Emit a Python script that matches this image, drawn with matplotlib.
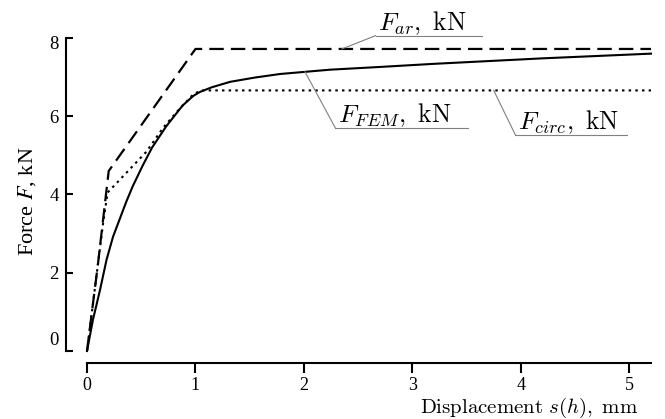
import numpy as np
import matplotlib
matplotlib.use("Agg")
import matplotlib.pyplot as plt
from matplotlib.transforms import ScaledTranslation

plt.rcParams["font.family"] = ["Liberation Serif", "DejaVu Serif"]
plt.rcParams["mathtext.fontset"] = "stix"

# Displacement s (mm) and force F (kN) for each model
s_fem = [0, 0.055, 0.12, 0.18, 0.24, 0.30, 0.36, 0.42, 0.51, 0.60, 0.73, 0.88,
         0.98, 1.04, 1.15, 1.32, 1.55, 1.78, 2.24, 2.70, 3.2, 3.7, 4.2, 4.7, 5.2]
F_fem = [0, 0.8, 1.56, 2.33, 2.92, 3.36, 3.8, 4.2, 4.72, 5.2, 5.74, 6.27,
         6.52, 6.62, 6.74, 6.88, 6.99, 7.08, 7.19, 7.26, 7.34, 7.41, 7.48, 7.54, 7.6]

s_ar = [0, 0.05, 0.10, 0.15, 0.20, 1.0, 5.2]
F_ar = [0, 1.1, 2.2, 3.4, 4.6, 7.72, 7.72]

s_circ = [0, 0.05, 0.10, 0.15, 0.19, 0.55, 0.70, 0.85, 0.98, 1.05, 5.2]
F_circ = [0, 1.1, 2.2, 3.3, 4.05, 5.1, 5.7, 6.18, 6.56, 6.66, 6.66]

x_ticks = [0, 1, 2, 3, 4, 5]
y_ticks = [0, 2, 4, 6, 8]

fig = plt.figure(figsize=(6.65, 4.19), dpi=100)
ax = fig.add_axes([87 / 665, 68 / 419, 564 / 665, 313 / 419])

ax.plot(s_fem, F_fem, color="black", lw=1.5, clip_on=False)
ax.plot(s_ar, F_ar, color="black", lw=1.6, dashes=(6.5, 3.2), clip_on=False)
ax.plot(s_circ, F_circ, color="black", lw=1.5, dashes=(1.2, 2.0), clip_on=False)

ax.set_xlim(0, 5.2)
ax.set_ylim(0, 8)
ax.set_xticks(x_ticks)
ax.set_yticks(y_ticks)

for side in ("top", "right"):
    ax.spines[side].set_visible(False)
ax.spines["left"].set_position(("outward", 15))
ax.spines["bottom"].set_position(("outward", 8.6))
ax.spines["left"].set_bounds(0, 8)
ax.spines["bottom"].set_bounds(0, 5.2)
for side in ("left", "bottom"):
    ax.spines[side].set_linewidth(1.5)

ax.tick_params(axis="y", direction="in", length=5, width=1.5, pad=5.5, labelsize=13.5)
ax.tick_params(axis="x", direction="out", length=7, width=1.5, pad=3, labelsize=13)

# nudge the end labels of the force axis
ylabels = ax.get_yticklabels()
ylabels[0].set_transform(ylabels[0].get_transform() +
                         ScaledTranslation(0, 9 / 72, fig.dpi_scale_trans))
ylabels[-1].set_transform(ylabels[-1].get_transform() +
                          ScaledTranslation(0, -3 / 72, fig.dpi_scale_trans))

ax.set_xlabel(r"$\mathrm{Displacement}\ s(h),\ \mathrm{mm}$", fontsize=15,
              ha="right", va="baseline", math_fontfamily="cm")
ax.xaxis.set_label_coords(0.977, -0.198)
ax.set_ylabel(r"Force $F$, kN", fontsize=16, va="center")
ax.yaxis.set_label_coords(-0.107, 0.479)


def tag(text, x0, x1, y_line, x_pt, y_pt):
    """Underlined label with a leader line to a point on a curve."""
    gray = "#808080"
    ax.plot([x0, x1], [y_line, y_line], color=gray, lw=0.8, clip_on=False)
    ax.plot([x_pt, x0], [y_pt, y_line], color=gray, lw=0.8, clip_on=False)
    ax.text(x0 + 0.02, y_line + 0.14, text, fontsize=18.5, ha="left",
            va="baseline", math_fontfamily="cm")


tag(r"$F_{ar},\ \mathrm{kN}$", 2.66, 3.64, 8.06, 2.35, np.interp(2.35, s_ar, F_ar))
tag(r"$F_{FEM},\ \mathrm{kN}$", 2.29, 3.51, 5.70, 2.01, np.interp(2.01, s_fem, F_fem))
tag(r"$F_{circ},\ \mathrm{kN}$", 3.95, 4.98, 5.52, 3.75, np.interp(3.75, s_circ, F_circ))

fig.savefig("out.png", dpi=100)
